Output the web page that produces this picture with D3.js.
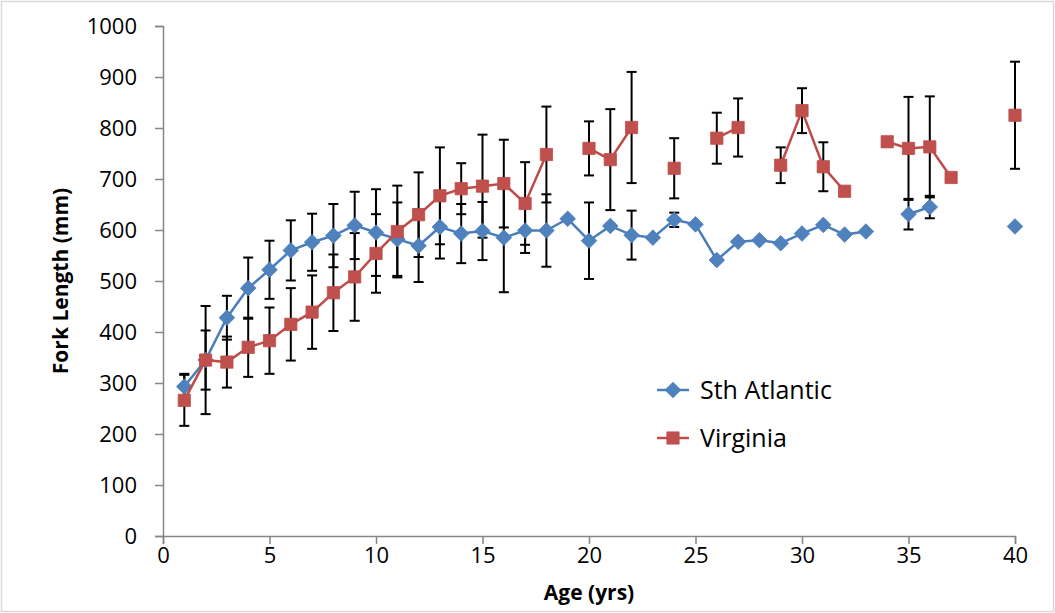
<!DOCTYPE html>
<html>
<head>
<meta charset="utf-8">
<script src="https://cdn.jsdelivr.net/npm/d3@7"></script>
<style>
  body { margin: 0; background: #fff; }
  text { font-family: "Open Sans", sans-serif; fill: #000; }
</style>
</head>
<body>
<div id="container"></div>
<script>
/**
 * DATA
 * */
const ages = d3.range(1, 41);

// Sth Atlantic mean fork length (mm) and error, index = age - 1
const sthAtlantic = [293, 345, 428, 486, 522, 560, 576, 589, 609, 595,
  582, 569, 606, 593, 598, 585, 599, 599, 622, 579,
  608, 590, 585, 620, 611, 541, 577, 580, 574, 593,
  610, 591, 597, null, 631, 645, null, null, null, 607];
const sthAtlanticErr = [25, 58, 43, 60, 57, 59, 56, 62, 66, 85,
  72, 71, 62, 58, 57, 107, 44, 71, null, 75,
  null, 48, null, 14, null, null, null, null, null, null,
  null, null, null, null, 30, 22, null, null, null, null];

const virginia = [266, 345, 341, 370, 383, 415, 439, 477, 508, 554,
  597, 630, 667, 681, 686, 691, 652, 748, null, 760,
  738, 801, null, 721, null, 780, 801, null, 727, 834,
  724, 676, null, 773, 760, 763, 703, null, null, 825];
const virginiaErr = [50, 106, 50, 58, 65, 71, 72, 75, 86, 77,
  90, 83, 95, 50, 101, 86, 81, 94, null, 53,
  99, 109, null, 59, null, 50, 57, null, 35, 44,
  48, null, null, null, 101, 99, null, null, null, 105];

const xTicks = [0, 5, 10, 15, 20, 25, 30, 35, 40];
const yTicks = d3.range(0, 1001, 100);

/**
 * CONSTANTS
 * */
const width = 1055,
  height = 613,
  margin = { top: 26, bottom: 77, left: 163, right: 40 };

const blue = "#4a7ebb", blueFill = "#4f81bd";
const red = "#be4b48", redFill = "#c0504d";
const axisColor = "#868686";

const svg = d3.select("#container")
  .append("svg")
  .attr("width", width)
  .attr("height", height);

// chart frame
svg.append("rect")
  .attr("x", 1.5).attr("y", 1.5)
  .attr("width", width - 3).attr("height", height - 3)
  .attr("fill", "#fff")
  .attr("stroke", "#d9d9d9")
  .attr("stroke-width", 1.5);

const xScale = d3.scaleLinear()
  .domain([0, 40])
  .range([margin.left, width - margin.right]);

const yScale = d3.scaleLinear()
  .domain([0, 1000])
  .range([height - margin.bottom, margin.top]);

/**
 * AXES
 * */
const yAxis = svg.append("g")
  .attr("transform", `translate(${margin.left},0)`)
  .call(d3.axisLeft(yScale).tickValues(yTicks).tickFormat(d3.format("d")).tickSize(8).tickPadding(18));

const xAxis = svg.append("g")
  .attr("transform", `translate(0,${height - margin.bottom})`)
  .call(d3.axisBottom(xScale).tickValues(xTicks).tickFormat(d3.format("d")).tickSize(8).tickPadding(3));

[xAxis, yAxis].forEach(ax => {
  ax.select(".domain").attr("stroke", axisColor).attr("stroke-width", 1.5);
  ax.selectAll(".tick line").attr("stroke", axisColor).attr("stroke-width", 1.5);
  ax.selectAll(".tick text")
    .attr("font-family", "Open Sans, sans-serif")
    .attr("font-size", 22)
    .attr("fill", "#000");
});

svg.append("text")
  .attr("x", (xScale(0) + xScale(40)) / 2)
  .attr("y", 600)
  .attr("text-anchor", "middle")
  .attr("font-size", 21)
  .attr("font-weight", "bold")
  .text("Age (yrs)");

svg.append("text")
  .attr("transform", `translate(68,${(yScale(0) + yScale(1000)) / 2}) rotate(-90)`)
  .attr("text-anchor", "middle")
  .attr("font-size", 21)
  .attr("font-weight", "bold")
  .text("Fork Length (mm)");

/**
 * SERIES
 * */
// diamond = square turned 45deg, like the spreadsheet marker
const series = [
  { name: "Sth Atlantic", values: sthAtlantic, err: sthAtlanticErr, color: blue, fill: blueFill, size: 121, rot: 45 },
  { name: "Virginia", values: virginia, err: virginiaErr, color: red, fill: redFill, size: 150, rot: 0 },
];

// error bars go underneath everything
series.forEach(s => {
  const pts = ages.map((a, i) => ({ age: a, v: s.values[i], e: s.err[i] }))
    .filter(d => d.v != null && d.e != null);

  const g = svg.append("g").attr("stroke", "#000").attr("stroke-width", 2);
  g.selectAll("line.bar")
    .data(pts)
    .join("line")
    .attr("class", "bar")
    .attr("x1", d => xScale(d.age)).attr("x2", d => xScale(d.age))
    .attr("y1", d => yScale(d.v - d.e)).attr("y2", d => yScale(d.v + d.e));
  g.selectAll("line.capHi")
    .data(pts)
    .join("line")
    .attr("class", "capHi")
    .attr("x1", d => xScale(d.age) - 5).attr("x2", d => xScale(d.age) + 5)
    .attr("y1", d => yScale(d.v + d.e)).attr("y2", d => yScale(d.v + d.e));
  g.selectAll("line.capLo")
    .data(pts)
    .join("line")
    .attr("class", "capLo")
    .attr("x1", d => xScale(d.age) - 5).attr("x2", d => xScale(d.age) + 5)
    .attr("y1", d => yScale(d.v - d.e)).attr("y2", d => yScale(d.v - d.e));
});

const lineGen = d3.line()
  .defined(d => d.v != null)
  .x(d => xScale(d.age))
  .y(d => yScale(d.v));

series.forEach(s => {
  const pts = ages.map((a, i) => ({ age: a, v: s.values[i] }));

  svg.append("path")
    .datum(pts)
    .attr("fill", "none")
    .attr("stroke", s.color)
    .attr("stroke-width", 2.5)
    .attr("d", lineGen);

  svg.selectAll(null)
    .data(pts.filter(d => d.v != null))
    .join("path")
    .attr("transform", d => `translate(${xScale(d.age)},${yScale(d.v)}) rotate(${s.rot})`)
    .attr("d", d3.symbol(d3.symbolSquare, s.size))
    .attr("fill", s.fill)
    .attr("stroke", s.color)
    .attr("stroke-width", 0.8);
});

/**
 * LEGEND
 * */
const legend = svg.append("g");
series.forEach((s, i) => {
  const ly = 390 + i * 48;
  legend.append("line")
    .attr("x1", 657).attr("x2", 689)
    .attr("y1", ly).attr("y2", ly)
    .attr("stroke", s.color).attr("stroke-width", 2.5);
  legend.append("path")
    .attr("transform", `translate(673,${ly}) rotate(${s.rot})`)
    .attr("d", d3.symbol(d3.symbolSquare, s.size))
    .attr("fill", s.fill)
    .attr("stroke", s.color)
    .attr("stroke-width", 0.8);
  legend.append("text")
    .attr("x", 700).attr("y", ly)
    .attr("dy", "0.35em")
    .attr("font-size", 25)
    .text(s.name);
});
</script>
</body>
</html>
